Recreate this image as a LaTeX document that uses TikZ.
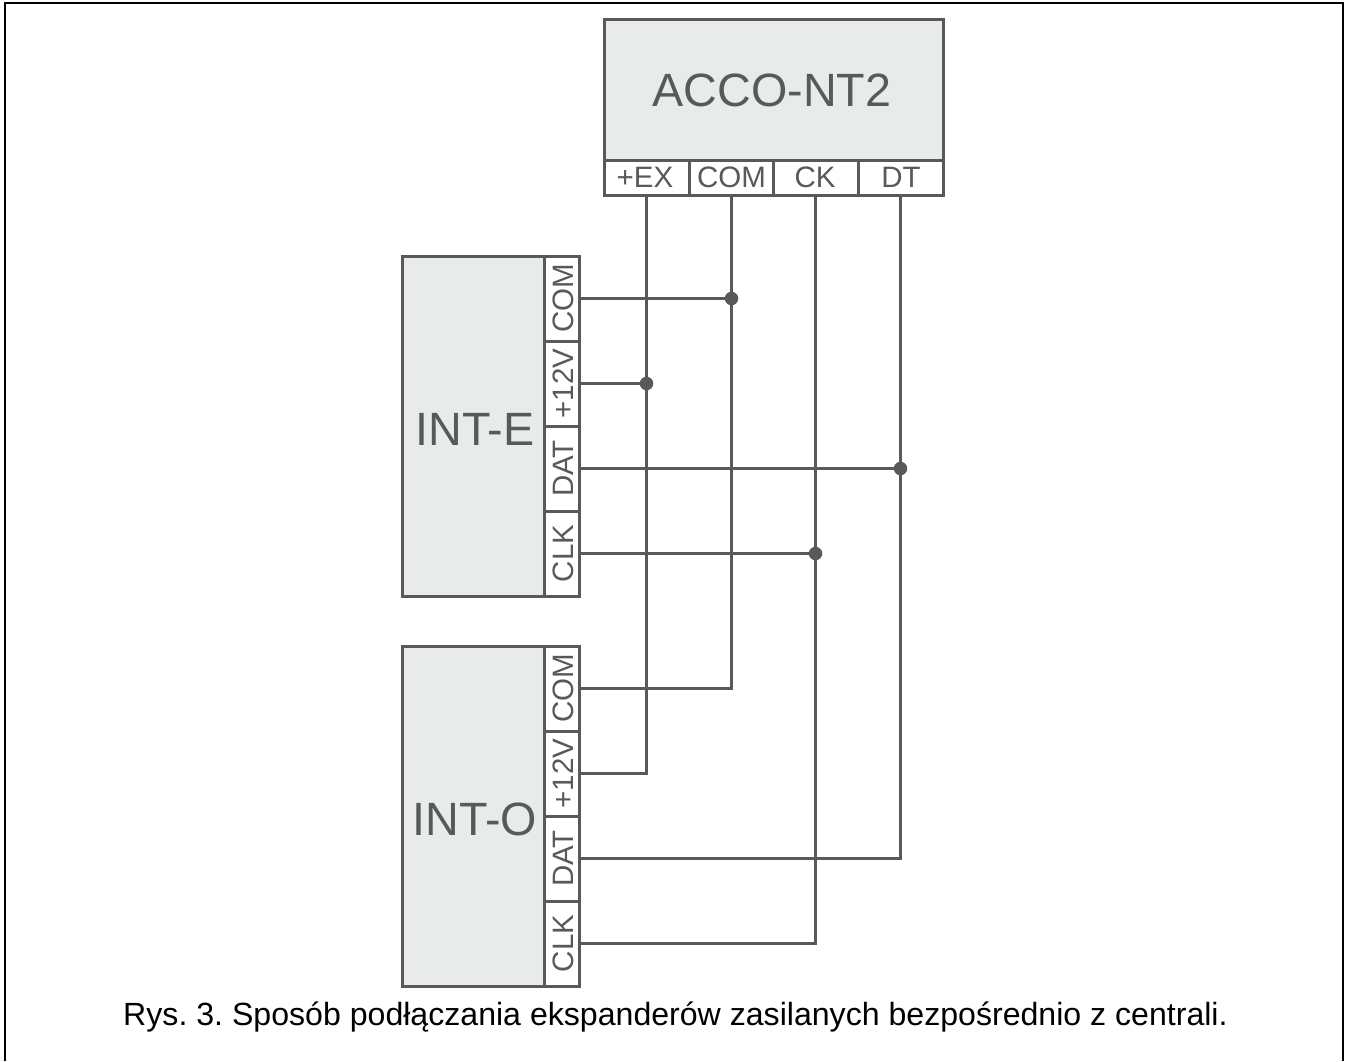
\documentclass[tikz,border=0pt]{standalone}
\usepackage{fontspec}
\setmainfont{Liberation Sans}
\definecolor{ink}{HTML}{58595B}
\definecolor{boxfill}{HTML}{E9EBEA}
\tikzset{
  x=1pt,y=-1pt,
  frameline/.style={draw=black,line width=2pt},
  module/.style={draw=ink,fill=boxfill,line width=3pt},
  term/.style={draw=ink,fill=white,line width=3pt},
  wire/.style={draw=ink,line width=3.7pt},
  jdot/.style={circle,fill=ink,draw=none,minimum size=13.5pt,inner sep=0pt},
  pin/.style={inner sep=0pt,anchor=base,text=ink,font=\fontsize{29.5}{29.5}\selectfont},
  title/.style={inner sep=0pt,anchor=base,text=ink,font=\fontsize{46.7}{46.7}\selectfont},
  caption/.style={inner sep=0pt,anchor=base,text=black,font=\fontsize{32.1}{32.1}\selectfont},
}
\begin{document}
\begin{tikzpicture}
\frenchspacing
\useasboundingbox (0,0) rectangle (1351,1061);
\draw[frameline] (4.5,1061) -- (4.5,2.5) -- (1342.7,2.5) -- (1342.7,1061);
% ACCO
\path[module] (604,19) rectangle (943,160);
\node[title] (acco) at (772,106) {ACCO-NT2};
\node[term,minimum width=85pt,minimum height=35pt,inner sep=0pt] (tex) at (646.5,177.5) {};
\node[term,minimum width=85pt,minimum height=35pt,inner sep=0pt] (tcom) at (731.5,177.5) {};
\node[term,minimum width=85pt,minimum height=35pt,inner sep=0pt] (tck) at (815.5,177.5) {};
\node[term,minimum width=85pt,minimum height=35pt,inner sep=0pt] (tdt) at (900.5,177.5) {};
\node[pin] at (645,187.5) {+EX};
\node[pin] at (731.5,187.5) {COM};
\node[pin] at (815,187.5) {CK};
\node[pin] at (901,187.5) {DT};
% INT-E
\path[module] (402.5,256) rectangle (544,596);
\node[title] (inte) at (475,445) {INT-E};
\foreach \n/\y/\t in {ecom/298.5/COM,ev/383.5/+12V,edat/468.5/DAT,eclk/553.5/CLK}{
  \node[term,minimum width=35.5pt,minimum height=85pt,inner sep=0pt] (\n) at (561.75,\y) {};
  \node[pin,rotate=90] at (573.3,\y) {\t};
}
% INT-O
\path[module] (402.5,646) rectangle (544,986);
\node[title] (into) at (475,835) {INT-O};
\foreach \n/\y/\t in {ocom/688.5/COM,ov/773.5/+12V,odat/858.5/DAT,oclk/943.5/CLK}{
  \node[term,minimum width=35.5pt,minimum height=85pt,inner sep=0pt] (\n) at (561.75,\y) {};
  \node[pin,rotate=90] at (573.3,\y) {\t};
}
% wires
\draw[wire] (tex.south) |- (ov.east);
\draw[wire] (tcom.south) |- (ocom.east);
\draw[wire] (tck.south) |- (oclk.east);
\draw[wire] (tdt.south) |- (odat.east);
\node[jdot] (j1) at (tcom.south |- ecom.east) {};
\node[jdot] (j2) at (tex.south |- ev.east) {};
\node[jdot] (j3) at (tdt.south |- edat.east) {};
\node[jdot] (j4) at (tck.south |- eclk.east) {};
\draw[wire] (ecom.east) -- (j1);
\draw[wire] (ev.east) -- (j2);
\draw[wire] (edat.east) -- (j3);
\draw[wire] (eclk.east) -- (j4);
\node[caption] (cap) at (675.5,1025) {Rys. 3. Sposób podłączania ekspanderów zasilanych bezpośrednio z centrali.};
\end{tikzpicture}
\end{document}
